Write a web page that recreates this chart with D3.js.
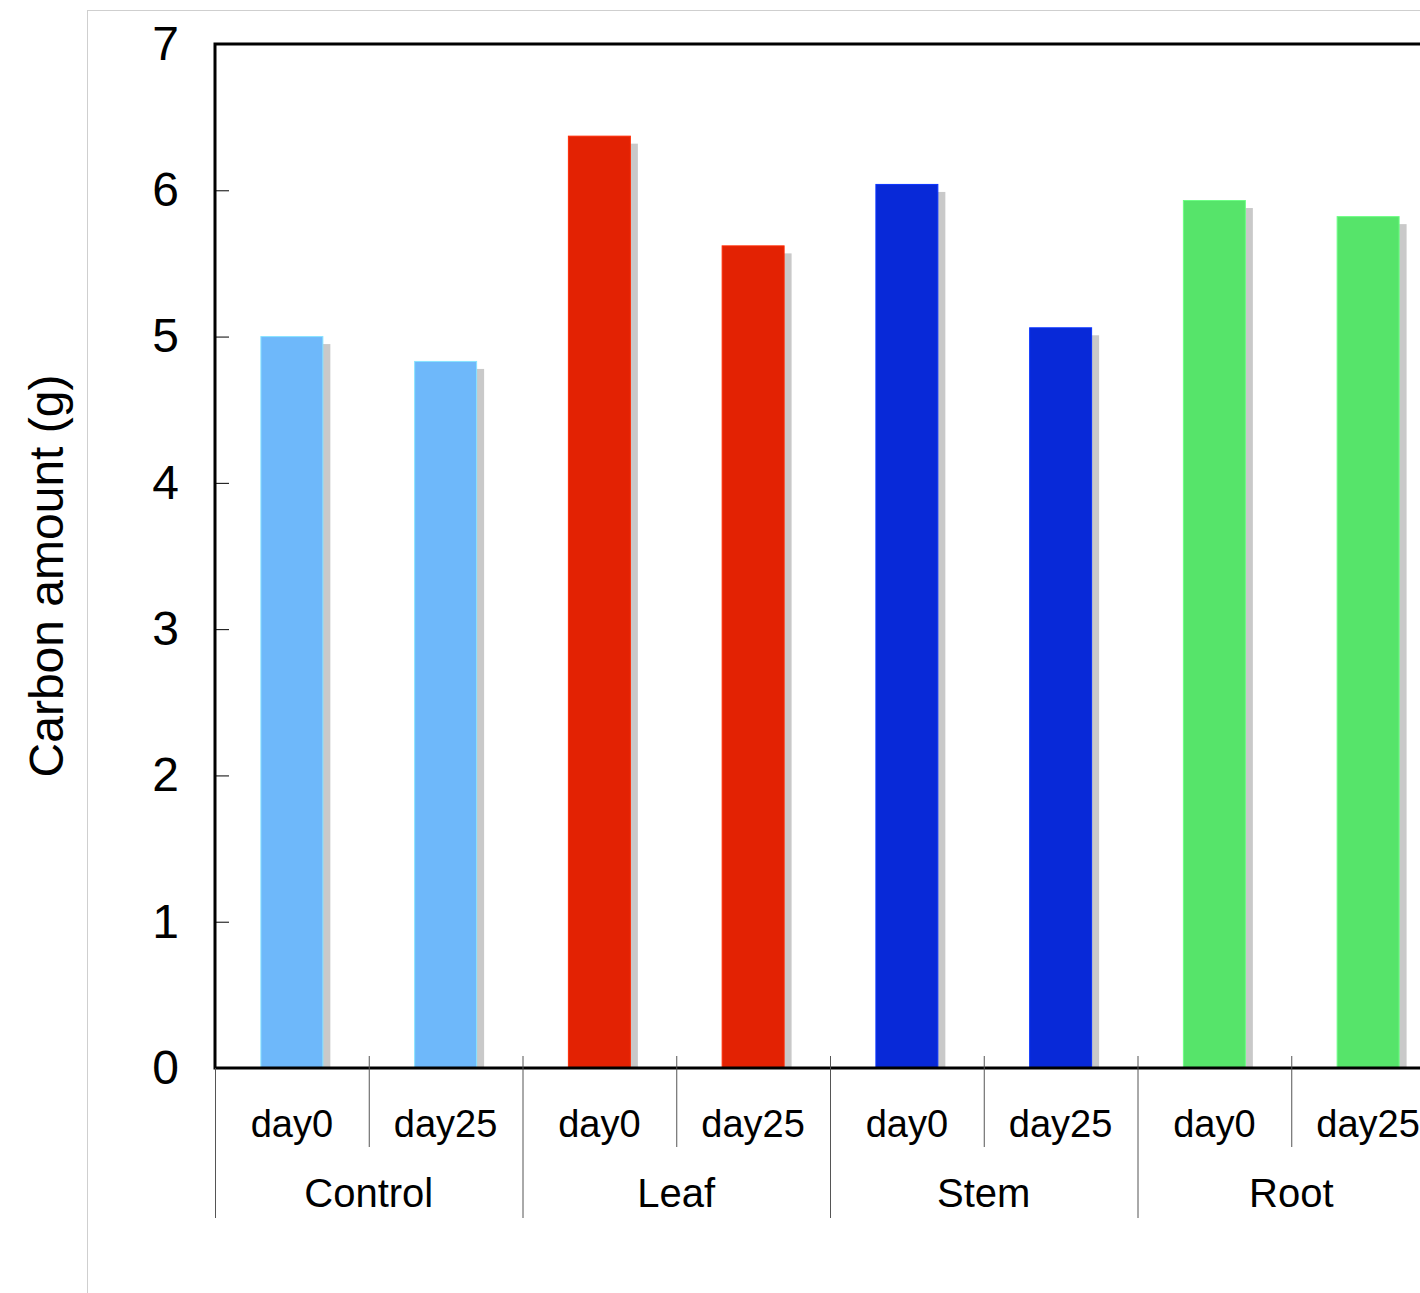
<!DOCTYPE html>
<html>
<head>
<meta charset="utf-8">
<script src="https://cdn.jsdelivr.net/npm/d3@7/dist/d3.min.js"></script>
<style>
  html, body { margin: 0; padding: 0; background: #fff; }
  svg { display: block; }
  text { font-family: "Liberation Sans", Arial, Helvetica, sans-serif; fill: #000; }
</style>
</head>
<body>
<svg id="chart" width="1420" height="1293"></svg>
<script>
// Treatment groups and sampling days
const groups = ["Control", "Leaf", "Stem", "Root"];
const days = ["day0", "day25"];
const groupColors = ["#6eb8fa", "#e32203", "#0829d8", "#56e46a"];

// Carbon amount (g) per group, ordered day0, day25
const controlValues = [5.00, 4.83];
const leafValues = [6.37, 5.62];
const stemValues = [6.04, 5.06];
const rootValues = [5.93, 5.82];

const yTicks = [0, 1, 2, 3, 4, 5, 6, 7];
const yLabel = "Carbon amount (g)";

const seriesByGroup = [controlValues, leafValues, stemValues, rootValues];
const rows = [];
groups.forEach((g, gi) => {
  days.forEach((d, di) => {
    rows.push({ key: g + "|" + d, group: g, gi, day: d, value: seriesByGroup[gi][di] });
  });
});

const svg = d3.select("#chart");

// Outer panel border
svg.append("rect")
  .attr("x", 87.5).attr("y", 10.5)
  .attr("width", 1500).attr("height", 1400)
  .attr("fill", "none").attr("stroke", "#cfcfcf").attr("stroke-width", 1);

const plot = { left: 215, top: 44, right: 1445, bottom: 1068 };

const x = d3.scaleBand()
  .domain(rows.map(r => r.key))
  .range([plot.left, plot.right])
  .paddingInner(0).paddingOuter(0);

const y = d3.scaleLinear().domain([0, 7]).range([plot.bottom, plot.top]);

const barW = x.bandwidth() * 0.403;
const shadowOff = 7.5;

// Shadows behind the bars
svg.append("g").selectAll("rect")
  .data(rows).join("rect")
  .attr("x", d => x(d.key) + (x.bandwidth() - barW) / 2 + shadowOff)
  .attr("y", d => y(d.value) + shadowOff)
  .attr("width", barW)
  .attr("height", d => y(0) - y(d.value) - shadowOff)
  .attr("fill", "#c9c9c9");

// Bars
svg.append("g").selectAll("rect")
  .data(rows).join("rect")
  .attr("x", d => x(d.key) + (x.bandwidth() - barW) / 2)
  .attr("y", d => y(d.value))
  .attr("width", barW)
  .attr("height", d => y(0) - y(d.value))
  .attr("fill", d => groupColors[d.gi])
  .attr("stroke", d => d3.color(groupColors[d.gi]).brighter(0.6))
  .attr("stroke-width", 1);

// Y axis with inward ticks
const yAxis = d3.axisLeft(y).tickValues(yTicks).tickSize(-14).tickPadding(36).tickFormat(d3.format("d"));
const yg = svg.append("g").attr("transform", `translate(${plot.left},0)`).call(yAxis);
yg.select(".domain").remove();
yg.selectAll(".tick line").attr("stroke", "#000").attr("stroke-width", 1);
yg.selectAll(".tick text")
  .style("font-family", "'Liberation Sans', Arial, sans-serif")
  .attr("font-size", 48).attr("fill", "#000");

// Plot frame
svg.append("rect")
  .attr("x", plot.left).attr("y", plot.top)
  .attr("width", plot.right - plot.left).attr("height", plot.bottom - plot.top)
  .attr("fill", "none").attr("stroke", "#000").attr("stroke-width", 3);

// Category separators below the axis
const sep = svg.append("g").attr("stroke", "#555").attr("stroke-width", 1);
rows.forEach((r, i) => {
  const xs = x(r.key);
  const isGroupStart = i % 2 === 0;
  sep.append("line")
    .attr("x1", xs + 0.5).attr("x2", xs + 0.5)
    .attr("y1", i === 0 ? plot.bottom : plot.bottom - 12)
    .attr("y2", isGroupStart ? 1218 : 1147);
});

// Day labels
svg.append("g").selectAll("text")
  .data(rows).join("text")
  .attr("x", d => x(d.key) + x.bandwidth() / 2)
  .attr("y", 1137)
  .attr("text-anchor", "middle")
  .attr("font-size", 38)
  .text(d => d.day);

// Group labels
svg.append("g").selectAll("text")
  .data(groups).join("text")
  .attr("x", (g, gi) => x(g + "|" + days[0]) + x.bandwidth())
  .attr("y", 1207)
  .attr("text-anchor", "middle")
  .attr("font-size", 40)
  .text(g => g);

// Y axis title
svg.append("text")
  .attr("transform", "translate(63,576) rotate(-90)")
  .attr("text-anchor", "middle")
  .attr("font-size", 48)
  .text(yLabel);
</script>
</body>
</html>
